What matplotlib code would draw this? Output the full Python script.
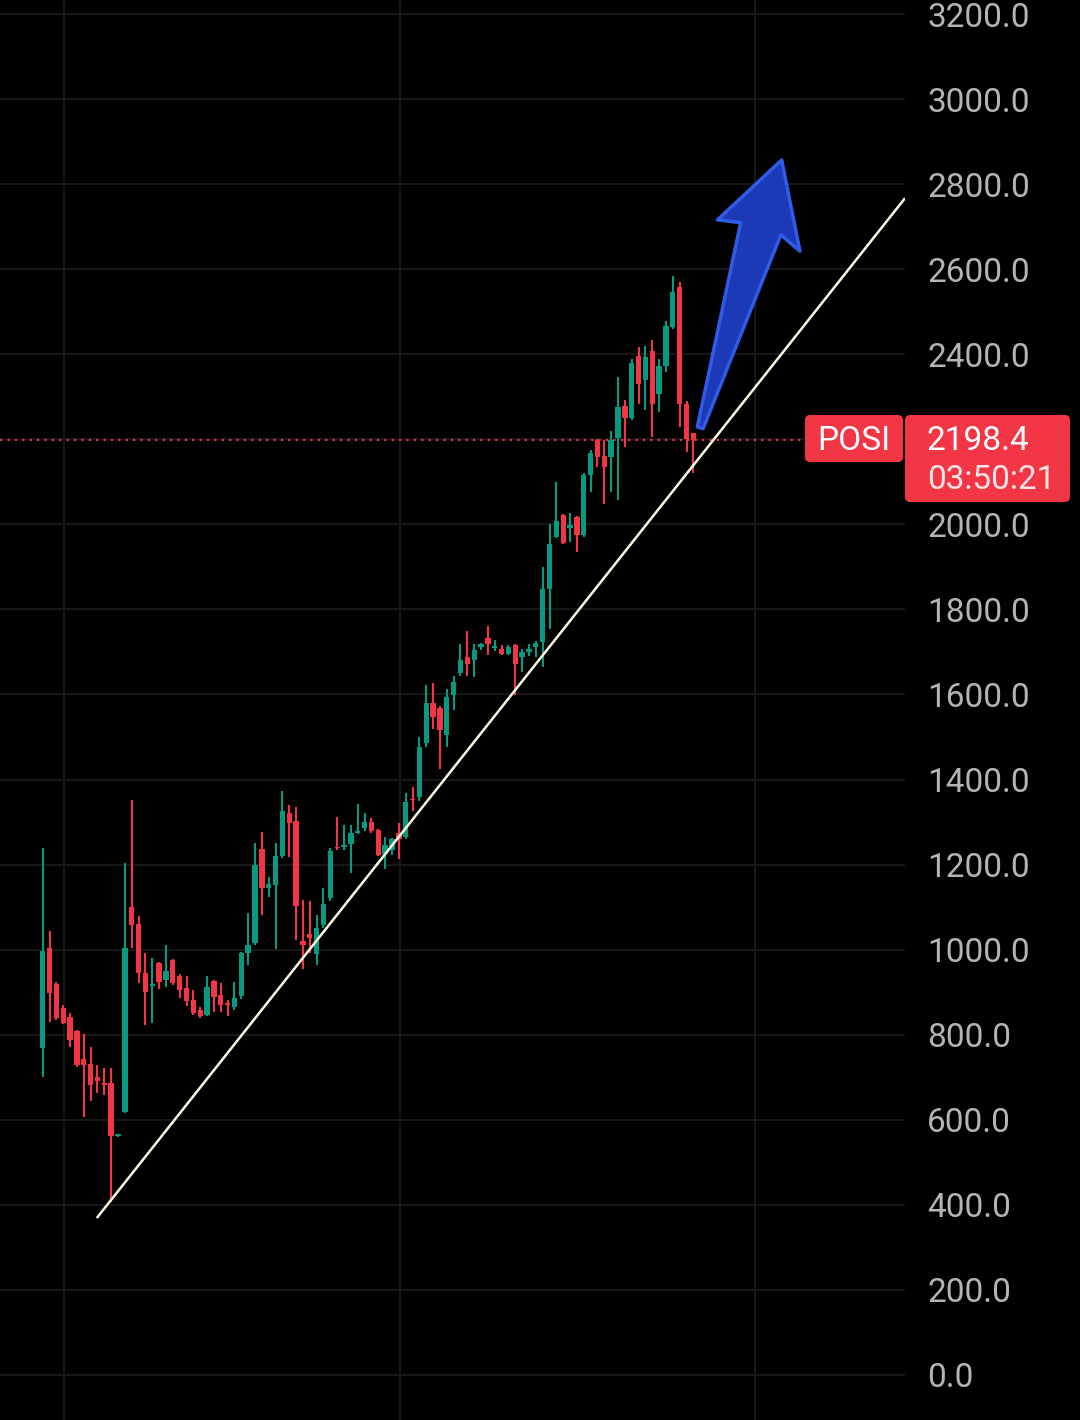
import numpy as np
import matplotlib
matplotlib.use('Agg')
import matplotlib.pyplot as plt
from matplotlib.patches import Polygon, FancyBboxPatch
from matplotlib.transforms import IdentityTransform

# daily candles
opens = [769, 1003, 919, 863, 842, 809, 742, 731, 700, 686, 686, 562, 619, 1101, 1060, 944,
         915, 969, 929, 976, 939, 909, 882, 858, 846, 926, 893, 875, 866, 890, 991, 1015,
         1236, 1144, 1152, 1220, 1321, 1303, 1021, 1037, 990, 1057, 1121, 1242, 1242, 1249,
         1274, 1286, 1300, 1281, 1226, 1235, 1275, 1266, 1354, 1358, 1485, 1581, 1569, 1505,
         1599, 1650, 1689, 1681, 1711, 1733, 1709, 1707, 1696, 1716, 1688, 1701, 1711, 1724,
         1849, 1971, 2022, 1991, 2017, 1975, 2116, 2198, 2161, 2158, 2202, 2278, 2249, 2396,
         2339, 2408, 2306, 2372, 2465, 2557, 2283, 2214]
closes = [997, 897, 839, 828, 788, 729, 729, 682, 690, 682, 561, 564, 1005, 1057, 944, 900,
          919, 925, 950, 921, 905, 880, 850, 844, 913, 889, 870, 870, 886, 991, 1011, 1199,
          1144, 1154, 1220, 1326, 1298, 1103, 1011, 1027, 1050, 1107, 1233, 1238, 1246, 1275,
          1279, 1300, 1280, 1223, 1246, 1259, 1259, 1348, 1351, 1476, 1579, 1547, 1516, 1593,
          1630, 1681, 1672, 1705, 1719, 1719, 1713, 1696, 1712, 1672, 1701, 1707, 1722, 1849,
          1955, 2009, 1957, 1999, 1975, 2116, 2167, 2159, 2136, 2198, 2276, 2249, 2379, 2330,
          2394, 2283, 2372, 2466, 2547, 2283, 2200, 2198.4]
highs = [1239, 1045, 925, 870, 850, 812, 802, 770, 729, 722, 722, 566, 1203, 1352, 1078, 991,
         980, 970, 1011, 978, 942, 937, 905, 866, 937, 928, 921, 882, 925, 995, 1087, 1250,
         1276, 1170, 1250, 1373, 1340, 1335, 1117, 1115, 1082, 1144, 1240, 1313, 1292, 1293,
         1343, 1322, 1309, 1283, 1264, 1262, 1297, 1369, 1382, 1501, 1622, 1628, 1572, 1612,
         1644, 1719, 1750, 1719, 1722, 1761, 1727, 1716, 1716, 1718, 1706, 1718, 1725, 1900,
         2002, 2100, 2025, 2026, 2020, 2120, 2175, 2200, 2198, 2220, 2347, 2292, 2388, 2416,
         2419, 2434, 2390, 2479, 2584, 2569, 2291, 2216]
lows = [701, 831, 835, 825, 772, 725, 606, 643, 663, 658, 407, 560, 615, 1003, 921, 823,
        827, 907, 913, 918, 886, 868, 846, 840, 844, 854, 853, 843, 858, 885, 964, 1010,
        1082, 1123, 1001, 1215, 1218, 1023, 954, 991, 964, 1050, 1115, 1235, 1235, 1180,
        1272, 1280, 1275, 1220, 1189, 1223, 1213, 1260, 1325, 1350, 1477, 1518, 1424, 1477,
        1564, 1644, 1644, 1640, 1705, 1693, 1702, 1692, 1692, 1599, 1654, 1690, 1688, 1665,
        1755, 1969, 1955, 1959, 1936, 1970, 2077, 2135, 2049, 2077, 2057, 2183, 2245, 2284,
        2269, 2206, 2265, 2359, 2460, 2230, 2171, 2120]

y_ticks = np.arange(0, 3201, 200)
symbol = "POSI"
last_price = 2198.4
countdown = "03:50:21"

# support trendline (bar index, price) and the drawn arrow
trend_start = (7.9, 369)
trend_end = (125.9, 2767)
arrow_tail = (96.0, 2227)
arrow_tip = (107.9, 2857)

GREEN = '#089981'
RED = '#f23645'
BG = '#000000'
GRID = '#1a1a1a'

plt.rcParams['font.family'] = ['Roboto', 'DejaVu Sans']


def main():
    W, H = 1080, 1420
    fig = plt.figure(figsize=(W / 100, H / 100), dpi=100, facecolor=BG)
    ax = fig.add_axes([0, 0, 905 / W, 1])
    ax.set_facecolor(BG)

    o = np.array(opens, dtype=float)
    c = np.array(closes, dtype=float)
    hi = np.array(highs, dtype=float)
    lo = np.array(lows, dtype=float)
    x = np.arange(len(o))
    up = c >= o
    cols = np.where(up, GREEN, RED)

    # wicks
    ax.vlines(x, lo, hi, colors=cols, linewidth=1.5, zorder=3)
    # bodies
    bottom = np.minimum(o, c)
    height = np.maximum(np.abs(c - o), 4)
    ax.bar(x, height, bottom=bottom, width=0.78, color=cols, linewidth=0, zorder=4)

    ax.set_xlim(-6.23, 125.9)
    ax.set_ylim(-106, 3233)

    # grid
    ax.set_yticks(y_ticks)
    ax.set_xticks([3.1, 52.2, 104.0])
    ax.grid(True, color=GRID, linewidth=1.3, zorder=0)
    ax.tick_params(axis='x', length=0, labelbottom=False)
    ax.yaxis.tick_right()
    ax.tick_params(axis='y', length=0, pad=16, labelsize=24, labelcolor='#b4b4b8')
    # the 2200 label sits under the price tag
    ax.set_yticklabels(["" if abs(v - last_price) < 100 else f"{v:.1f}" for v in y_ticks])
    for s in ax.spines.values():
        s.set_visible(False)

    # trendline
    ax.plot([trend_start[0], trend_end[0]], [trend_start[1], trend_end[1]],
            color='#fffbe0', linewidth=1.8, zorder=5, solid_capstyle='butt')

    # last price dotted line
    ax.axhline(last_price, xmin=0, xmax=805 / 905, color=RED, linewidth=1.4,
               linestyle=(0, (1.2, 2.6)), zorder=2)

    fig.canvas.draw()
    tr = ax.transData

    # blue arrow, built in pixel space
    t = np.array(tr.transform(arrow_tail))
    p = np.array(tr.transform(arrow_tip))
    d = p - t
    L = np.hypot(*d)
    u = d / L
    n = np.array([-u[1], u[0]])
    head_len = 72
    base = p - u * head_len
    pts = [t + n * 3, base + n * 21, base + n * 44 - u * 4, p,
           base - n * 44 - u * 10, base - n * 21, t - n * 3]
    arrow = Polygon(pts, closed=True, transform=IdentityTransform(),
                    facecolor='#1c3ab8', edgecolor='#2f5be6', linewidth=2.5,
                    joinstyle='round', zorder=6)
    fig.patches.append(arrow)

    # price tag boxes
    py = tr.transform((0, last_price))[1]
    top = py + 25
    box1 = FancyBboxPatch((805, top - 47), 98, 47, boxstyle='round,pad=0,rounding_size=5',
                          transform=IdentityTransform(), facecolor=RED, edgecolor='none', zorder=7)
    box2 = FancyBboxPatch((905, top - 87), 165, 87, boxstyle='round,pad=0,rounding_size=5',
                          transform=IdentityTransform(), facecolor=RED, edgecolor='none', zorder=7)
    fig.patches.extend([box1, box2])
    fig.text(854 / W, (top - 26) / H, symbol, color='white', fontsize=24,
             ha='center', va='center', zorder=8)
    fig.text(927 / W, (top - 26) / H, f"{last_price:.1f}", color='white', fontsize=24,
             ha='left', va='center', zorder=8)
    fig.text(927 / W, (top - 65) / H, countdown, color='#ffe4e6', fontsize=24,
             ha='left', va='center', zorder=8)

    fig.savefig('out.png', dpi=100, facecolor=BG)


if __name__ == "__main__":
    main()
